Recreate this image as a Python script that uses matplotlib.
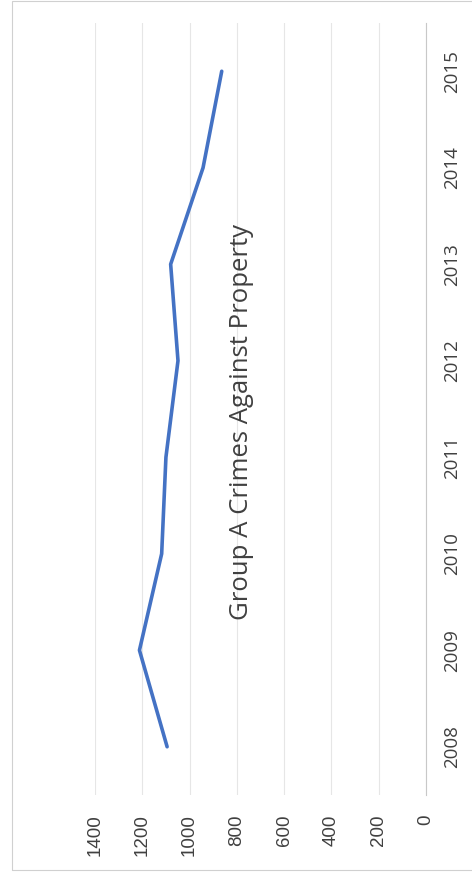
import matplotlib
matplotlib.use("Agg")
import matplotlib.pyplot as plt
from matplotlib.patches import Rectangle

years = ["2008", "2009", "2010", "2011", "2012", "2013", "2014", "2015"]
crimes = [1095, 1212, 1118, 1100, 1049, 1080, 943, 864]
value_ticks = [0, 200, 400, 600, 800, 1000, 1200, 1400]
title = "Group A Crimes Against Property"

plt.rcParams['font.family'] = ['Open Sans', 'DejaVu Sans']

W, H = 472, 882
fig = plt.figure(figsize=(W / 100, H / 100), dpi=100)
fig.patches.append(Rectangle((12 / W, 12 / H), 1.0, 1 - 13 / H, transform=fig.transFigure,
                             fill=False, edgecolor='#d0d0d0', linewidth=0.8))

ax = fig.add_axes([95 / W, 1 - 795 / H, (426 - 95) / W, (795 - 23) / H])
pos = list(range(len(years)))
ax.plot(crimes, pos, color='#4472C4', linewidth=2.6, solid_capstyle='round',
        solid_joinstyle='round')

ax.set_xlim(1400, 0)
ax.set_ylim(-0.5, len(years) - 0.5)
ax.set_xticks(value_ticks)
ax.set_xticklabels([str(v) for v in value_ticks], rotation=90, fontsize=13.5,
                   color='#404040', family=['Liberation Sans', 'DejaVu Sans'])
ax.set_yticks(pos)
ax.set_yticklabels(years, rotation=90, fontsize=13.5, color='#404040', va='center')
ax.yaxis.tick_right()
ax.tick_params(axis='x', length=0, pad=14)
ax.tick_params(axis='y', length=0, pad=12)
ax.grid(axis='x', color='#e6e6e6', linewidth=0.8)
ax.set_axisbelow(True)
for s in ['top', 'bottom', 'left']:
    ax.spines[s].set_visible(False)
ax.spines['right'].set_color('#c8c8c8')
ax.spines['right'].set_linewidth(0.8)

fig.text(242 / W, 1 - 422 / H, title, rotation=90, ha='center', va='center',
         fontsize=18.5, color='#404040')

fig.savefig("out.png", dpi=100)
